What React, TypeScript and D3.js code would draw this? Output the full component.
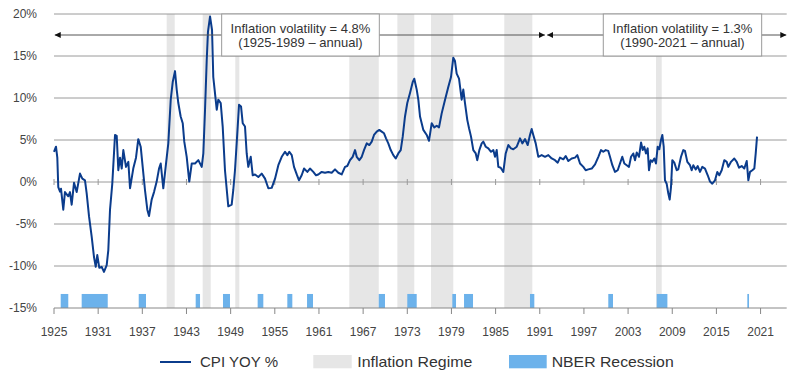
import React from 'react';
import * as d3 from 'd3';

// CPI YoY % (years as read against the drawn axis)
const cpiYear = [
  1925.00, 1925.27, 1925.45, 1925.58, 1925.82, 1925.95, 1926.26, 1926.49, 1926.94, 1927.17,
  1927.40, 1927.72, 1928.08, 1928.53, 1928.85, 1929.21, 1929.44, 1929.76, 1930.12, 1930.43,
  1930.67, 1930.88, 1931.15, 1931.48, 1931.79, 1932.16, 1932.38, 1932.61, 1932.92, 1933.29,
  1933.52, 1933.74, 1933.97, 1934.20, 1934.42, 1934.78, 1935.10, 1935.33, 1935.77, 1936.14,
  1936.45, 1936.78, 1937.05, 1937.36, 1937.68, 1937.91, 1938.27, 1938.59, 1938.95, 1939.27,
  1939.50, 1939.85, 1940.22, 1940.53, 1940.86, 1941.13, 1941.44, 1941.67, 1941.89, 1942.21,
  1942.49, 1942.70, 1943.03, 1943.38, 1943.71, 1944.16, 1944.61, 1945.07, 1945.29, 1945.52,
  1945.75, 1945.92, 1946.20, 1946.47, 1946.64, 1946.92, 1947.11, 1947.32, 1947.65, 1947.92,
  1948.23, 1948.68, 1949.14, 1949.36, 1949.59, 1949.82, 1950.14, 1950.41, 1950.64, 1950.95,
  1951.18, 1951.40, 1951.73, 1952.00, 1952.31, 1952.76, 1953.22, 1953.67, 1954.12, 1954.58,
  1955.03, 1955.48, 1955.94, 1956.39, 1956.70, 1956.97, 1957.30, 1957.61, 1957.98, 1958.29,
  1958.65, 1958.97, 1959.42, 1959.78, 1960.23, 1960.60, 1960.91, 1961.37, 1961.82, 1962.27,
  1962.73, 1963.18, 1963.63, 1964.09, 1964.54, 1964.85, 1965.22, 1965.58, 1965.90, 1966.13,
  1966.48, 1966.81, 1967.12, 1967.49, 1967.84, 1968.17, 1968.48, 1968.85, 1969.20, 1969.52,
  1969.84, 1970.11, 1970.42, 1970.75, 1971.10, 1971.43, 1971.78, 1972.11, 1972.38, 1972.69,
  1973.00, 1973.37, 1973.74, 1973.95, 1974.28, 1974.50, 1974.73, 1975.18, 1975.64, 1975.95,
  1976.32, 1976.67, 1977.00, 1977.31, 1977.68, 1978.13, 1978.57, 1978.94, 1979.25, 1979.48,
  1979.71, 1980.03, 1980.39, 1980.61, 1980.84, 1981.15, 1981.39, 1981.66, 1981.97, 1982.30,
  1982.51, 1982.79, 1983.11, 1983.33, 1983.66, 1984.01, 1984.38, 1984.69, 1984.92, 1985.15,
  1985.37, 1985.69, 1986.05, 1986.37, 1986.73, 1987.09, 1987.41, 1987.87, 1988.32, 1988.63,
  1989.00, 1989.36, 1989.67, 1989.90, 1990.12, 1990.45, 1990.80, 1991.26, 1991.71, 1992.16,
  1992.62, 1993.07, 1993.44, 1993.75, 1994.20, 1994.52, 1994.88, 1995.34, 1995.79, 1996.10,
  1996.47, 1996.92, 1997.24, 1997.60, 1998.06, 1998.51, 1998.96, 1999.32, 1999.63, 1999.96,
  2000.31, 2000.54, 2000.86, 2001.22, 2001.59, 2001.90, 2002.21, 2002.49, 2002.81, 2003.12,
  2003.40, 2003.71, 2003.94, 2004.17, 2004.48, 2004.76, 2004.99, 2005.20, 2005.43, 2005.66,
  2005.84, 2006.07, 2006.29, 2006.56, 2006.79, 2007.02, 2007.24, 2007.47, 2007.65, 2007.84,
  2008.01, 2008.24, 2008.46, 2008.65, 2008.83, 2009.01, 2009.28, 2009.61, 2009.82, 2010.19,
  2010.50, 2010.73, 2011.05, 2011.41, 2011.64, 2011.86, 2012.19, 2012.46, 2012.77, 2013.08,
  2013.45, 2013.82, 2014.13, 2014.44, 2014.81, 2015.12, 2015.39, 2015.72, 2016.07, 2016.40,
  2016.62, 2016.98, 2017.43, 2017.76, 2018.07, 2018.44, 2018.79, 2019.12, 2019.34, 2019.57,
  2019.88, 2020.15, 2020.34, 2020.52,
];

const cpiYoY = [
  3.6, 4.2, 2.9, -0.6, -1.15, -0.8, -3.3, -1.2, -1.7, -1.2,
  -2.7, -0.1, -1.2, 1.0, 0.4, 0.2, -1.35, -4.1, -6.5, -8.9,
  -10.1, -8.7, -10.2, -10.1, -10.7, -9.9, -8.1, -3.3, -0.2, 5.6,
  5.5, 1.4, 2.9, 1.6, 3.8, 1.8, 2.4, -0.75, 1.6, 2.9,
  5.1, 4.2, 1.8, -0.95, -3.3, -4.05, -2.1, -1.2, 0.05, 1.6,
  2.2, -0.75, 2.2, 4.6, 9.8, 11.9, 13.2, 11.0, 9.4, 7.8,
  7.0, 4.8, 3.0, 0.05, 2.2, 2.2, 2.6, 1.8, 3.4, 8.6,
  14.5, 17.9, 19.7, 18.1, 12.5, 10.2, 8.6, 9.8, 9.4, 6.6,
  1.4, -2.9, -2.7, -0.95, 1.4, 4.6, 9.2, 9.0, 7.0, 6.6,
  3.4, 1.8, 3.0, 0.8, 0.9, 0.6, 1.0, 0.4, -0.75, -0.7,
  0.4, 2.0, 3.0, 3.6, 3.2, 3.6, 3.2, 1.8, 0.9, 0.2,
  0.8, 1.6, 1.2, 1.6, 1.2, 0.8, 0.9, 1.2, 1.1, 1.2,
  1.1, 1.5, 1.1, 0.9, 1.8, 1.9, 2.6, 3.0, 3.8, 3.0,
  2.6, 3.0, 3.8, 4.6, 4.4, 4.8, 5.6, 6.0, 6.2, 6.0,
  5.8, 5.2, 4.6, 3.8, 3.2, 2.8, 3.4, 3.8, 5.4, 7.8,
  9.4, 10.6, 11.9, 12.3, 11.0, 9.8, 7.8, 6.2, 5.6, 4.9,
  7.0, 6.5, 6.7, 6.5, 8.2, 9.8, 11.3, 12.5, 14.8, 14.4,
  12.9, 12.3, 9.8, 11.0, 9.4, 7.4, 6.4, 5.4, 3.8, 3.4,
  2.6, 3.8, 4.6, 4.8, 4.2, 4.0, 3.6, 3.8, 3.0, 3.8,
  1.8, 1.7, 1.2, 3.4, 4.4, 4.0, 3.9, 4.2, 5.2, 4.6,
  5.1, 4.4, 5.6, 6.3, 5.6, 4.6, 3.0, 3.2, 3.0, 3.2,
  2.8, 2.6, 2.3, 2.9, 2.7, 3.1, 2.5, 2.8, 2.9, 3.2,
  2.2, 1.8, 1.4, 1.5, 1.6, 2.1, 3.0, 3.8, 3.6, 3.8,
  3.7, 3.0, 2.0, 1.2, 1.4, 2.2, 3.0, 2.2, 2.0, 1.8,
  3.0, 3.4, 2.6, 3.5, 3.0, 4.7, 3.8, 4.2, 3.4, 4.0,
  1.4, 2.6, 2.4, 2.8, 2.2, 4.2, 3.9, 5.0, 5.6, 4.2,
  0.2, -0.2, -1.35, -2.1, -0.6, 2.6, 2.3, 1.4, 1.5, 3.0,
  3.8, 3.7, 2.4, 2.0, 1.4, 2.0, 1.5, 1.9, 1.2, 1.8,
  1.6, 0.8, 0.05, -0.2, 0.2, 1.2, 0.8, 1.4, 2.6, 2.4,
  1.8, 2.4, 2.8, 2.4, 1.7, 1.9, 1.6, 2.5, 0.2, 1.2,
  1.4, 1.6, 3.4, 5.4,
];

// Inflation regime periods
const regimeStart = [1940.31, 1945.2, 1949.63, 1965.12, 1971.65, 1976.22, 1986.18, 2006.79];
const regimeEnd = [1941.4, 1946.29, 1950.18, 1969.12, 1973.95, 1979.25, 1989.99, 2007.57];

// NBER recessions
const recessionStart = [1925.91, 1928.76, 1936.51, 1944.25, 1947.96, 1952.67, 1956.7, 1959.38, 1969.12, 1973.0, 1979.12, 1980.71, 1989.67, 2000.31, 2006.89, 2019.2];
const recessionEnd = [1926.94, 1932.3, 1937.5, 1944.84, 1948.91, 1953.44, 1957.38, 1960.19, 1969.97, 1974.28, 1979.62, 1981.93, 1990.26, 2000.95, 2008.34, 2019.43];
const recessionTop = -13.33;

// Axis ticks
const xTicks = [1925, 1931, 1937, 1943, 1949, 1955, 1961, 1967, 1973, 1979, 1985, 1991, 1997, 2003, 2009, 2015, 2021];
const yTicks = [-15, -10, -5, 0, 5, 10, 15, 20];

// Annotations
const annoLine1 = ['Inflation volatility = 4.8%', 'Inflation volatility = 1.3%'];
const annoLine2 = ['(1925-1989 \u2013 annual)', '(1990-2021 \u2013 annual)'];
const annoBoxStart = [1947.78, 1999.63];
const annoBoxEnd = [1969.2, 2021.15];
const arrowStart = [1925.1, 1992.0];
const arrowEnd = [1991.7, 2024.5];
const arrowLevel = 17.5;
const boxTop = 20;
const boxBottom = 15;

// Legend
const legendLabels = ['CPI YOY %', 'Inflation Regime', 'NBER Recession'];

const FONT = '"Liberation Sans", Arial, Helvetica, sans-serif';

export default function App() {
  const W = 800;
  const H = 378;
  const x = d3.scaleLinear().domain([1925, 2024.55]).range([54, 786.7]);
  const y = d3.scaleLinear().domain([-15, 20]).range([308, 14]);
  const x0 = x.range()[0];
  const x1 = x.range()[1];

  const linePath = d3
    .line<number>()
    .x((_, i) => x(cpiYear[i]))
    .y((d) => y(d))(cpiYoY) as string;

  const lineColor = '#0b3c8c';
  const gridColor = '#9a9a9a';

  return (
    <svg
      width={W}
      height={H}
      style={{ position: 'absolute', left: 0, top: 0, background: '#fff' }}
      fontFamily={FONT}
    >
      <defs>
        <marker id="arr" viewBox="0 0 10 10" refX="10" refY="5" markerWidth="6" markerHeight="6" orient="auto-start-reverse" markerUnits="userSpaceOnUse">
          <path d="M0,0 L10,5 L0,10 z" fill="#111" />
        </marker>
      </defs>
      <rect x={0} y={0} width={W} height={H} fill="#fff" />

      {/* Inflation regimes */}
      {regimeStart.map((s, i) => (
        <rect key={'r' + i} x={x(s)} y={y(20)} width={x(regimeEnd[i]) - x(s)} height={y(-15) - y(20)} fill="#e6e6e6" />
      ))}

      {/* Gridlines */}
      {yTicks
        .filter((t) => t !== -15)
        .map((t) => (
          <line key={'g' + t} x1={x0} x2={x1} y1={y(t)} y2={y(t)} stroke={gridColor} strokeWidth={1} />
        ))}
      {/* ticks crossing the zero line */}
      {xTicks.map((t) => (
        <line key={'z' + t} x1={x(t)} x2={x(t)} y1={y(0) - 3} y2={y(0) + 3} stroke={gridColor} strokeWidth={1} />
      ))}

      {/* Recessions */}
      {recessionStart.map((s, i) => (
        <rect key={'n' + i} x={x(s)} y={y(recessionTop)} width={Math.max(1.2, x(recessionEnd[i]) - x(s))} height={y(-15) - y(recessionTop)} fill="#6cb2eb" />
      ))}

      {/* Bottom axis */}
      <line x1={x0} x2={x1} y1={y(-15)} y2={y(-15)} stroke="#888" strokeWidth={1} />
      {xTicks.map((t) => (
        <g key={'x' + t}>
          <line x1={x(t)} x2={x(t)} y1={y(-15)} y2={y(-15) + 6} stroke="#888" strokeWidth={1} />
          <text x={x(t)} y={336} textAnchor="middle" fontSize={12} fill="#444">
            {t}
          </text>
        </g>
      ))}

      {/* Y labels */}
      {yTicks.map((t) => (
        <text key={'y' + t} x={37} y={y(t)} dy="0.35em" textAnchor="end" fontSize={12} fill="#444">
          {t}%
        </text>
      ))}

      {/* CPI line */}
      <path d={linePath} fill="none" stroke={lineColor} strokeWidth={2} strokeLinejoin="round" />

      {/* Annotations */}
      {arrowStart.map((s, i) => (
        <line
          key={'a' + i}
          x1={x(s)}
          x2={x(arrowEnd[i])}
          y1={y(arrowLevel)}
          y2={y(arrowLevel)}
          stroke="#555"
          strokeWidth={1}
          markerStart="url(#arr)"
          markerEnd="url(#arr)"
        />
      ))}
      {annoBoxStart.map((s, i) => {
        const bx = x(s);
        const bw = x(annoBoxEnd[i]) - bx;
        const cx = bx + bw / 2;
        return (
          <g key={'b' + i}>
            <rect x={bx} y={y(boxTop)} width={bw} height={y(boxBottom) - y(boxTop)} fill="#fff" stroke={gridColor} strokeWidth={1} />
            <text x={cx} y={33} textAnchor="middle" fontSize={13} fill="#333">
              {annoLine1[i]}
            </text>
            <text x={cx} y={46.5} textAnchor="middle" fontSize={13} fill="#333">
              {annoLine2[i]}
            </text>
          </g>
        );
      })}

      {/* Legend */}
      <g fontSize={15} fill="#333">
        <line x1={160} x2={191} y1={362} y2={362} stroke={lineColor} strokeWidth={2} />
        <text x={200} y={367.3} textLength={78} lengthAdjust="spacingAndGlyphs">{legendLabels[0]}</text>
        <rect x={313.3} y={355} width={38.4} height={13.3} fill="#e6e6e6" />
        <text x={357.3} y={367.3} textLength={115} lengthAdjust="spacingAndGlyphs">{legendLabels[1]}</text>
        <rect x={509} y={355} width={37.7} height={13.3} fill="#6cb2eb" />
        <text x={551.7} y={367.3} textLength={122} lengthAdjust="spacingAndGlyphs">{legendLabels[2]}</text>
      </g>
    </svg>
  );
}
